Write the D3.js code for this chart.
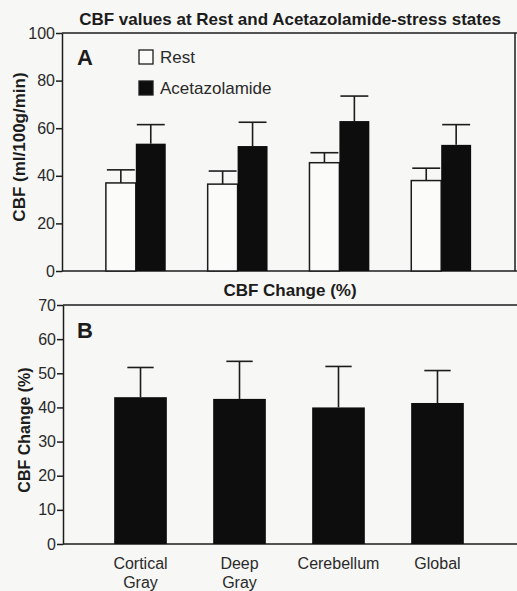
<!DOCTYPE html>
<html>
<head>
<meta charset="utf-8">
<script src="https://cdn.jsdelivr.net/npm/d3@7"></script>
<style>
  body { margin: 0; background: #f7f7f5; }
  svg { display: block; font-family: "Liberation Sans", Arial, sans-serif; }
  .tick text { fill: #2a2a2a; }
</style>
</head>
<body>
<div id="chart-area"></div>
<script>
// Data
const regions = ["Cortical Gray", "Deep Gray", "Cerebellum", "Global"]
const restCBF = [37, 36.5, 45.5, 38]
const restSD = [5.5, 5.5, 4.2, 5.2]
const acetCBF = [53.5, 52.5, 63, 53]
const acetSD = [8, 10, 10.5, 8.5]
const changePct = [43, 42.5, 40, 41.3]
const changeSD = [8.7, 11, 12, 9.5]
const ticksA = [0, 20, 40, 60, 80, 100]
const ticksB = [0, 10, 20, 30, 40, 50, 60, 70]

const W = 517, H = 591
const ink = "#1c1c1c"

const svg = d3.select("#chart-area").append("svg")
    .attr("width", W)
    .attr("height", H)

svg.append("rect").attr("width", W).attr("height", H).attr("fill", "#f7f7f5")

// horizontal frame lines run out to the page edge
const hLine = (g, x1, x2, y) => g.append("line")
    .attr("x1", x1).attr("x2", x2).attr("y1", y).attr("y2", y)
    .attr("stroke", ink).attr("stroke-width", 1.5)

// ---------- Panel A ----------
const xA = d3.scaleBand().domain(regions).range([62, 515])
    .paddingInner(0.412).paddingOuter(0.431)
const yA = d3.scaleLinear().domain([0, 100]).range([271, 33])
const barW = xA.bandwidth() / 2

const gA = svg.append("g")

hLine(gA, 62, W, yA(100))
hLine(gA, 62, W, yA(0))
gA.append("line")
    .attr("x1", 515).attr("x2", 515).attr("y1", yA(100)).attr("y2", yA(0))
    .attr("stroke", ink).attr("stroke-width", 1.5)

const restRows = regions.map((r, i) => ({r, v: restCBF[i], sd: restSD[i]}))
const acetRows = regions.map((r, i) => ({r, v: acetCBF[i], sd: acetSD[i]}))

// error bars first so the bars cover the lower half
const errA = (rows, off) => {
    const e = gA.append("g").attr("stroke", ink).attr("stroke-width", 1.6)
    e.selectAll(".stem").data(rows).join("line")
        .attr("x1", d => xA(d.r) + off + barW / 2)
        .attr("x2", d => xA(d.r) + off + barW / 2)
        .attr("y1", d => yA(d.v))
        .attr("y2", d => yA(d.v + d.sd))
    e.selectAll(".cap").data(rows).join("line")
        .attr("x1", d => xA(d.r) + off + 1)
        .attr("x2", d => xA(d.r) + off + barW - 1)
        .attr("y1", d => yA(d.v + d.sd))
        .attr("y2", d => yA(d.v + d.sd))
}
errA(restRows, 0)
errA(acetRows, barW)

gA.selectAll(".rest").data(restRows).join("rect")
    .attr("x", d => xA(d.r))
    .attr("y", d => yA(d.v))
    .attr("width", barW)
    .attr("height", d => yA(0) - yA(d.v))
    .attr("fill", "#fbfbfa").attr("stroke", ink).attr("stroke-width", 1.5)

gA.selectAll(".acet").data(acetRows).join("rect")
    .attr("x", d => xA(d.r) + barW)
    .attr("y", d => yA(d.v))
    .attr("width", barW)
    .attr("height", d => yA(0) - yA(d.v))
    .attr("fill", "#0d0d0d")

gA.append("g")
    .attr("transform", "translate(62,0)")
    .call(d3.axisLeft(yA).tickValues(ticksA).tickSize(6).tickSizeOuter(0).tickPadding(1))
    .call(g => g.select(".domain").attr("stroke", ink).attr("stroke-width", 1.5))
    .call(g => g.selectAll(".tick line").attr("stroke", ink).attr("stroke-width", 1.5))
    .call(g => g.selectAll(".tick text").attr("font-size", 16))

gA.append("text")
    .attr("x", 290).attr("y", 25)
    .attr("text-anchor", "middle")
    .attr("font-size", 17).attr("font-weight", "bold").attr("fill", ink)
    .text("CBF values at Rest and Acetazolamide-stress states")

gA.append("text")
    .attr("transform", `translate(25,147) rotate(-90)`)
    .attr("text-anchor", "middle")
    .attr("font-size", 17).attr("font-weight", "bold").attr("fill", ink)
    .text("CBF (ml/100g/min)")

gA.append("text")
    .attr("x", 77).attr("y", 65)
    .attr("font-size", 22).attr("font-weight", "bold").attr("fill", ink)
    .text("A")

// legend
const legend = [{label: "Rest", fill: "#fbfbfa"}, {label: "Acetazolamide", fill: "#0d0d0d"}]
const lg = gA.append("g").selectAll("g").data(legend).join("g")
    .attr("transform", (d, i) => `translate(139,${50 + i * 31})`)
lg.append("rect")
    .attr("width", 14).attr("height", 14)
    .attr("fill", d => d.fill).attr("stroke", ink).attr("stroke-width", 1.3)
lg.append("text")
    .attr("x", 21).attr("y", 13)
    .attr("font-size", 17).attr("fill", "#2a2a2a")
    .text(d => d.label)

// ---------- Panel B ----------
const xB = d3.scaleBand().domain(regions).range([63, 515])
    .paddingInner(0.468).paddingOuter(0.517)
const yB = d3.scaleLinear().domain([0, 70]).range([544, 305])

const gB = svg.append("g")

hLine(gB, 63, W, yB(70))
hLine(gB, 63, W, yB(0))

const changeRows = regions.map((r, i) => ({r, v: changePct[i], sd: changeSD[i]}))

const eB = gB.append("g").attr("stroke", ink).attr("stroke-width", 1.6)
eB.selectAll(".stem").data(changeRows).join("line")
    .attr("x1", d => xB(d.r) + xB.bandwidth() / 2)
    .attr("x2", d => xB(d.r) + xB.bandwidth() / 2)
    .attr("y1", d => yB(d.v))
    .attr("y2", d => yB(d.v + d.sd))
eB.selectAll(".cap").data(changeRows).join("line")
    .attr("x1", d => xB(d.r) + xB.bandwidth() / 4)
    .attr("x2", d => xB(d.r) + xB.bandwidth() * 3 / 4)
    .attr("y1", d => yB(d.v + d.sd))
    .attr("y2", d => yB(d.v + d.sd))

gB.selectAll(".chg").data(changeRows).join("rect")
    .attr("x", d => xB(d.r))
    .attr("y", d => yB(d.v))
    .attr("width", xB.bandwidth())
    .attr("height", d => yB(0) - yB(d.v))
    .attr("fill", "#0d0d0d")

gB.append("g")
    .attr("transform", "translate(63,0)")
    .call(d3.axisLeft(yB).tickValues(ticksB).tickSize(6).tickSizeOuter(0).tickPadding(1))
    .call(g => g.select(".domain").attr("stroke", ink).attr("stroke-width", 1.5))
    .call(g => g.selectAll(".tick line").attr("stroke", ink).attr("stroke-width", 1.5))
    .call(g => g.selectAll(".tick text").attr("font-size", 16))

// category labels, split on the space for the two-word names
const catLabels = gB.append("g").selectAll("text").data(regions).join("text")
    .attr("x", d => xB(d) + xB.bandwidth() / 2)
    .attr("y", 569)
    .attr("text-anchor", "middle")
    .attr("font-size", 16).attr("fill", "#2a2a2a")
catLabels.each(function (d) {
    const words = d === "Cerebellum" ? [d] : d.split(" ")
    d3.select(this).selectAll("tspan").data(words).join("tspan")
        .attr("x", d3.select(this).attr("x"))
        .attr("dy", (w, i) => i === 0 ? 0 : 19)
        .text(w => w)
})

gB.append("text")
    .attr("x", 290).attr("y", 296)
    .attr("text-anchor", "middle")
    .attr("font-size", 17).attr("font-weight", "bold").attr("fill", ink)
    .text("CBF Change (%)")

gB.append("text")
    .attr("transform", `translate(30,430) rotate(-90)`)
    .attr("text-anchor", "middle")
    .attr("font-size", 16).attr("font-weight", "bold").attr("fill", ink)
    .text("CBF Change (%)")

gB.append("text")
    .attr("x", 77).attr("y", 338)
    .attr("font-size", 22).attr("font-weight", "bold").attr("fill", ink)
    .text("B")
</script>
</body>
</html>
